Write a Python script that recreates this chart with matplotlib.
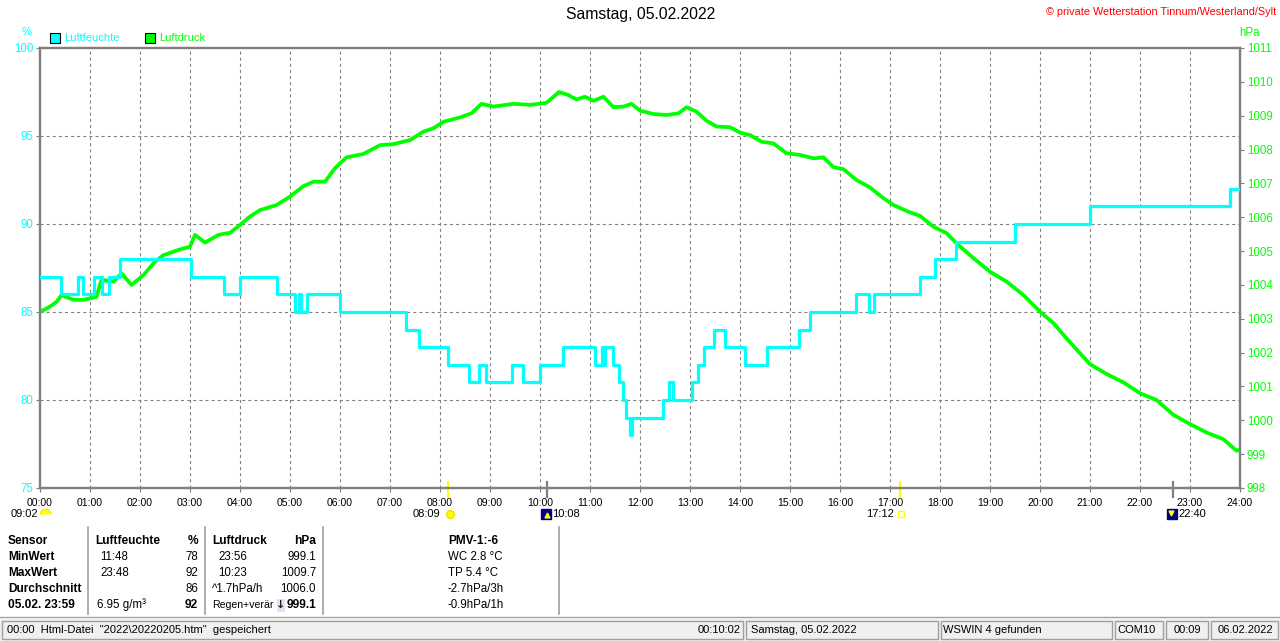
import numpy as np
import matplotlib
matplotlib.use("Agg")
import matplotlib.pyplot as plt
from matplotlib.patches import Rectangle
from matplotlib.lines import Line2D
from matplotlib.transforms import offset_copy

plt.rcParams['font.family'] = ['Liberation Sans', 'DejaVu Sans']
plt.rcParams['lines.scale_dashes'] = False

# ---------------- data ----------------
title = "Samstag, 05.02.2022"
copyright_text = "\u00a9 private Wetterstation Tinnum/Westerland/Sylt"
series_names = ["Luftfeuchte", "Luftdruck"]
hours = list(range(25))
hour_labels = [f"{h:02d}:00" for h in hours]
hum_ticks = [75, 80, 85, 90, 95, 100]
press_ticks = list(range(998, 1012))

# relative humidity (%) step series: time in hours, value valid from that time
hum_t = [0.00, 0.41, 0.75, 0.85, 1.07, 1.23, 1.37, 1.59, 3.02, 3.67, 4.00, 4.73,
         5.10, 5.17, 5.22, 5.33, 6.00, 7.32, 7.57, 8.15, 8.57, 8.77, 8.92, 9.43,
         9.65, 9.99, 10.45, 11.10, 11.23, 11.27, 11.30, 11.45, 11.57, 11.65, 11.71, 11.79,
         11.84, 12.45, 12.57, 12.65, 13.03, 13.15, 13.27, 13.47, 13.70, 14.10, 14.53, 15.17,
         15.39, 16.32, 16.57, 16.67, 17.59, 17.89, 18.33, 19.50, 21.00, 23.79, 24.00]
hum_v = [87, 86, 87, 86, 87, 86, 87, 88, 87, 86, 87, 86,
         85, 86, 85, 86, 85, 84, 83, 82, 81, 82, 81, 82,
         81, 82, 83, 82, 83, 82, 83, 82, 81, 80, 79, 78,
         79, 80, 81, 80, 81, 82, 83, 84, 83, 82, 83, 84,
         85, 86, 85, 86, 87, 88, 89, 90, 91, 92, 92]

# air pressure (hPa)
press_t = [0.00, 0.20, 0.33, 0.43, 0.67, 0.87, 1.13, 1.23, 1.47, 1.63, 1.83, 2.07,
           2.30, 2.47, 2.80, 3.00, 3.10, 3.30, 3.57, 3.80, 4.00, 4.20, 4.40, 4.73,
           5.00, 5.27, 5.47, 5.70, 5.90, 6.13, 6.47, 6.80, 7.07, 7.40, 7.67, 7.87,
           8.07, 8.40, 8.63, 8.83, 9.07, 9.47, 9.80, 10.13, 10.38, 10.55, 10.73, 10.90,
           11.07, 11.27, 11.47, 11.67, 11.83, 12.00, 12.27, 12.53, 12.77, 12.93, 13.13, 13.33,
           13.53, 13.80, 14.00, 14.20, 14.43, 14.67, 14.93, 15.20, 15.47, 15.67, 15.87, 16.07,
           16.33, 16.60, 16.87, 17.07, 17.37, 17.60, 17.87, 18.13, 18.33, 18.67, 19.00, 19.33,
           19.67, 20.00, 20.27, 20.53, 20.80, 21.00, 21.33, 21.67, 22.00, 22.33, 22.67, 23.00,
           23.33, 23.67, 23.93, 24.00]
press_v = [1003.20, 1003.36, 1003.50, 1003.70, 1003.56, 1003.56, 1003.65, 1004.15, 1004.10, 1004.34, 1004.00, 1004.29,
           1004.69, 1004.88, 1005.05, 1005.13, 1005.48, 1005.25, 1005.48, 1005.54, 1005.77, 1006.02, 1006.21, 1006.36,
           1006.61, 1006.92, 1007.05, 1007.05, 1007.45, 1007.77, 1007.87, 1008.13, 1008.16, 1008.28, 1008.53, 1008.63,
           1008.82, 1008.95, 1009.07, 1009.35, 1009.27, 1009.35, 1009.32, 1009.38, 1009.70, 1009.62, 1009.48, 1009.56,
           1009.44, 1009.56, 1009.25, 1009.27, 1009.35, 1009.15, 1009.05, 1009.02, 1009.07, 1009.25, 1009.12, 1008.85,
           1008.68, 1008.66, 1008.50, 1008.43, 1008.23, 1008.18, 1007.89, 1007.84, 1007.74, 1007.77, 1007.48, 1007.42,
           1007.10, 1006.88, 1006.56, 1006.36, 1006.16, 1006.04, 1005.72, 1005.53, 1005.23, 1004.79, 1004.39, 1004.10,
           1003.70, 1003.21, 1002.87, 1002.42, 1001.98, 1001.66, 1001.37, 1001.12, 1000.80, 1000.60, 1000.16, 999.89,
           999.64, 999.44, 999.10, 999.14]

# astronomical events
day_length = "09:02"
sunrise, sunset = "08:09", "17:12"
moonrise, moonset = "10:08", "22:40"

# table
table_rows = ["Sensor", "MinWert", "MaxWert", "Durchschnitt", "05.02. 23:59"]
hum_col_time = ["", "11:48", "23:48", "", "6.95 g/m\u00b3"]
hum_col_val = ["%", "78", "92", "86", "92"]
press_col_time = ["", "23:56", "10:23", "^1.7hPa/h", "Regen+ver\u00e4r"]
press_col_val = ["hPa", "999.1", "1009.7", "1006.0", "999.1"]
pmv_col = ["PMV-1:-6", "WC 2.8 \u00b0C", "TP 5.4 \u00b0C", "-2.7hPa/3h", "-0.9hPa/1h"]

status_texts = ['00:00  Html-Datei  "2022\\20220205.htm"  gespeichert', "00:10:02",
                "Samstag, 05.02.2022", "WSWIN 4 gefunden", "COM10", "00:09", "06.02.2022"]

# ---------------- style ----------------
W, H = 1280, 641
CYAN = "#00FFFF"
GREEN = "#00FF00"
YELLOW = "#FFFF00"
GREY = "#808080"
FS = 8          # regular text
FSB = 8.6       # bold table text


def fx(x):
    return x / W


def fy(y):
    return 1 - y / H


def hm(s):
    h, m = s.split(":")
    return int(h) + int(m) / 60.0


fig = plt.figure(figsize=(W / 100, H / 100), dpi=100)
fig.patch.set_facecolor("white")

rect = [fx(40), fy(488), 1200 / W, 440 / H]
ax = fig.add_axes(rect)
ax.set_xlim(0, 24)
ax.set_ylim(75, 100)
ax.set_xticks(hours)
ax.set_xticklabels(hour_labels, fontsize=7.6, color="black")
ax.set_yticks(hum_ticks)
ax.set_yticklabels([str(v) for v in hum_ticks], fontsize=8.3, color=CYAN)
ax.tick_params(axis="both", direction="out", length=3, width=0.8, color=GREY, pad=2)
ax.tick_params(axis="x", pad=4)
for h in hours[1:-1]:
    ax.axvline(h, color=GREY, lw=0.8, ls=(0, (2.2, 2.2)), zorder=0)
for v in hum_ticks[1:-1]:
    ax.axhline(v, color=GREY, lw=0.8, ls=(0, (2.2, 2.2)), zorder=0)
for s in ax.spines.values():
    s.set_color(GREY)
    s.set_linewidth(1.6)

ax2 = ax.twinx()
ax2.set_ylim(998, 1011)
ax2.set_yticks(press_ticks)
ax2.set_yticklabels([str(v) for v in press_ticks], fontsize=8.3, color=GREEN)
ax2.tick_params(axis="y", direction="out", length=3, width=0.8, color=GREY, pad=2)
ax2.patch.set_visible(False)
for s in ax2.spines.values():
    s.set_color(GREY)
    s.set_linewidth(1.6)
ax2.plot(press_t, press_v, color=GREEN, lw=2.7)

ax_top = fig.add_axes(rect, sharex=ax, sharey=ax)
ax_top.axis("off")
ax_top.patch.set_visible(False)
ax_top.step(hum_t, hum_v, where="post", color=CYAN, lw=2.3)
ax_top.set_xlim(0, 24)
ax_top.set_ylim(75, 100)

# units, legend, titles
fig.text(fx(27), fy(32), "%", color=CYAN, fontsize=FS, ha="center", va="center")
fig.text(fx(1250), fy(33), "hPa", color=GREEN, fontsize=8.3, ha="center", va="center")
fig.text(fx(641), fy(15), title, fontsize=11.3, ha="center", va="center")
fig.text(fx(1276), fy(12), copyright_text, color="red", fontsize=7.8, ha="right", va="center")

for name, col, x0 in zip(series_names, [CYAN, GREEN], [50, 145]):
    fig.patches.append(Rectangle((fx(x0), fy(43)), 10 / W, 10 / H, transform=fig.transFigure,
                                 facecolor=col, edgecolor="black", lw=0.8))
    fig.text(fx(x0 + 14), fy(38), name, color=col, fontsize=FS, ha="left", va="center")

# astronomical event ticks and labels
xt = ax.get_xaxis_transform()
ev_y = -0.059
for tstr, col in [(sunrise, YELLOW), (sunset, YELLOW), (moonrise, GREY), (moonset, GREY)]:
    ax.plot([hm(tstr), hm(tstr)], [-0.02, 0.014], color=col, lw=1.6, transform=xt, clip_on=False)


def off(dx, dy=0):
    return offset_copy(xt, fig=fig, x=dx, y=dy, units="dots")


half_disc = [(np.cos(a), np.sin(a)) for a in np.linspace(0, np.pi, 12)]

# day length (left)
ax.text(0, ev_y, day_length, transform=off(-2), ha="right", va="center", fontsize=FS)
ax.plot([0], [ev_y], marker=half_disc, ms=8, color=YELLOW, mec="#E8D800", mew=0.5,
        transform=off(5, 0), clip_on=False, ls="none")
# sunrise
ax.text(hm(sunrise), ev_y, sunrise, transform=off(-7), ha="right", va="center", fontsize=FS)
ax.plot([hm(sunrise)], [ev_y], marker="o", ms=5.5, color=YELLOW, mec="#F0E000",
        transform=off(2), clip_on=False)
ax.plot([hm(sunrise)], [ev_y], marker="+", ms=9, color="#FFFF80", mew=0.8,
        transform=off(2), clip_on=False, zorder=1)
# moonrise
ax.plot([hm(moonrise)], [ev_y], marker="s", ms=7, color="#000080", transform=off(-1), clip_on=False)
ax.plot([hm(moonrise)], [ev_y], marker="^", ms=3.5, color=YELLOW, transform=off(0, -1), clip_on=False)
ax.text(hm(moonrise), ev_y, moonrise, transform=off(5), ha="left", va="center", fontsize=FS)
# sunset
ax.text(hm(sunset), ev_y, sunset, transform=off(-6), ha="right", va="center", fontsize=FS)
ax.plot([hm(sunset)], [ev_y], marker="s", ms=4, mfc="white", mec=YELLOW, mew=1,
        transform=off(1), clip_on=False)
# moonset
ax.plot([hm(moonset)], [ev_y], marker="s", ms=7, color="#000080", transform=off(-1), clip_on=False)
ax.plot([hm(moonset)], [ev_y], marker="v", ms=3.5, color=YELLOW, transform=off(-2, 1), clip_on=False)
ax.text(hm(moonset), ev_y, moonset, transform=off(5), ha="left", va="center", fontsize=FS)

# ---------------- table ----------------
row_y = [541, 557, 573, 589, 605]
for i, y in enumerate(row_y):
    header = (i == 0)
    last = (i == 4)
    fig.text(fx(8), fy(y), table_rows[i], fontsize=FSB, fontweight="bold", ha="left", va="center")
    if header:
        fig.text(fx(95), fy(y), "Luftfeuchte", fontsize=FSB, fontweight="bold", ha="left", va="center")
        fig.text(fx(212), fy(y), "Luftdruck", fontsize=FSB, fontweight="bold", ha="left", va="center")
    else:
        fig.text(fx(100 if i < 4 else 97), fy(y), hum_col_time[i], fontsize=FS + 0.3, ha="left", va="center")
        fig.text(fx(218 if i < 3 else 212), fy(y), press_col_time[i],
                 fontsize=FS + 0.3 if i < 4 else 7.6, ha="left", va="center")
    fig.text(fx(198), fy(y), hum_col_val[i], fontsize=FSB if (header or last) else FS + 0.3,
             fontweight="bold" if (header or last) else "normal", ha="right", va="center")
    fig.text(fx(316), fy(y), press_col_val[i], fontsize=FSB if (header or last) else FS + 0.3,
             fontweight="bold" if (header or last) else "normal", ha="right", va="center")
    fig.text(fx(448), fy(y), pmv_col[i], fontsize=FSB if header else FS + 0.3,
             fontweight="bold" if header else "normal", ha="left", va="center")
# trend arrow next to last pressure value
fig.patches.append(Rectangle((fx(277), fy(612)), 8 / W, 13 / H, transform=fig.transFigure,
                             facecolor="#dde6f0", edgecolor="none"))
fig.text(fx(281), fy(605), "\u2193", fontsize=8, fontweight="bold", color="#202020",
         ha="center", va="center", family=["DejaVu Sans"])

for x in [88, 205, 323, 559]:
    fig.add_artist(Line2D([fx(x), fx(x)], [fy(527), fy(614)], color="#a0a0a0", lw=1.2))

# ---------------- status bar ----------------
fig.add_artist(Line2D([0, 1], [fy(617), fy(617)], color="#a0a0a0", lw=1))
fig.patches.append(Rectangle((0, 0), 1, (H - 619) / H, transform=fig.transFigure,
                             facecolor="#f0f0f0", edgecolor="none"))
panels = [(2, 743), (746, 938), (941, 1112), (1115, 1163), (1166, 1208), (1211, 1278)]
for x0, x1 in panels:
    fig.patches.append(Rectangle((fx(x0), fy(639)), (x1 - x0) / W, 18 / H, transform=fig.transFigure,
                                 facecolor="#f0f0f0", edgecolor="#a0a0a0", lw=1))
sy = fy(630)
fig.text(fx(7), sy, status_texts[0], fontsize=FS, ha="left", va="center")
fig.text(fx(741), sy, status_texts[1], fontsize=FS, ha="right", va="center")
fig.text(fx(751), sy, status_texts[2], fontsize=FS, ha="left", va="center")
fig.text(fx(943), sy, status_texts[3], fontsize=FS, ha="left", va="center")
fig.text(fx(1117), sy, status_texts[4], fontsize=FS, ha="left", va="center")
fig.text(fx(1187), sy, status_texts[5], fontsize=FS, ha="center", va="center")
fig.text(fx(1218), sy, status_texts[6], fontsize=FS, ha="left", va="center")

fig.savefig("out.png", dpi=100, facecolor="white")
